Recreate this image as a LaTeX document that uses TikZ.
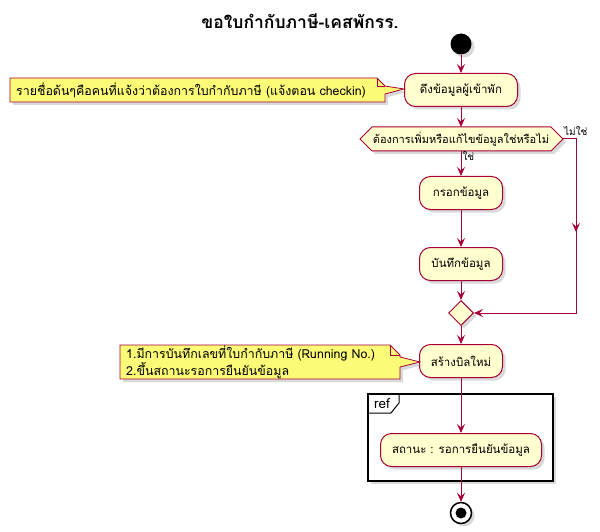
\documentclass[tikz,border=0pt]{standalone}
\usepackage{fontspec}
\newfontfamily\thaifont[Script=Thai]{Loma}
\usetikzlibrary{arrows.meta,shapes.geometric,shadows}
\definecolor{umlred}{HTML}{A80036}
\definecolor{actfill}{HTML}{FEFECE}
\definecolor{notefill}{HTML}{FBFB77}
\tikzset{
  umlshadow/.style={drop shadow={shadow xshift=3pt,shadow yshift=-3pt,opacity=.3}},
  act/.style={draw=umlred, fill=actfill, rounded corners=11pt, line width=1pt,
    minimum height=33pt, inner xsep=10pt, umlshadow,
    font=\thaifont\fontsize{11.5}{13}\selectfont},
  flow/.style={draw=umlred, line width=1pt, -{Stealth[length=9pt,width=8pt,inset=3.5pt]}},
  wire/.style={draw=umlred, line width=1pt},
  notebox/.style={draw=umlred, fill=notefill, line width=0.8pt, umlshadow},
  notetext/.style={anchor=west, align=left, inner sep=0pt,
    font=\thaifont\fontsize{12.4}{15.5}\selectfont},
  guard/.style={inner sep=1pt, font=\thaifont\fontsize{10}{12}\selectfont},
}
\begin{document}
\begin{tikzpicture}[x=1pt,y=-1pt]
\useasboundingbox (0,0) rectangle (600,532);
\node[font=\thaifont\bfseries\fontsize{17.5}{20}\selectfont] (title) at (300,21) {ขอใบกำกับภาษี-เคสพักรร.};

% start
\node[circle, fill=black, minimum size=21pt, inner sep=0pt, umlshadow] (start) at (461,44) {};

% pull guest data + note
\node[act, minimum width=113pt] (pull) at (461,90) {ดึงข้อมูลผู้เข้าพัก};
\draw[notebox] (10,78) -- (377,78) -- (385,86) -- (404,89) -- (385,94) -- (385,102) -- (10,102) -- cycle;
\draw[umlred, line width=0.8pt] (377,78) -- (377,86) -- (385,86);
\node[notetext] (note1) at (16,90) {รายชื่อด้นๆคือคนที่แจ้งว่าต้องการใบกำกับภาษี (แจ้งตอน checkin)};

% decision
\draw[wire, fill=actfill, umlshadow] (360,139) -- (372,127) -- (551,127) -- (563,139) -- (551,151) -- (372,151) -- cycle;
\node[font=\thaifont\fontsize{11}{13}\selectfont] (ask) at (461,139) {ต้องการเพิ่มหรือแก้ไขข้อมูลใช่หรือไม่};
\coordinate (askN) at (461,127);
\coordinate (askS) at (461,151);
\coordinate (askE) at (563,139);
\node[guard, anchor=west] (nolbl) at (563,131) {ไม่ใช่};

% yes branch
\node[act, minimum width=83pt] (fill) at (461,193) {กรอกข้อมูล};
\node[act, minimum width=83pt] (save) at (461,264) {บันทึกข้อมูล};
\node[diamond, draw=umlred, fill=actfill, line width=1pt, minimum size=25pt, inner sep=0pt, umlshadow] (merge) at (461,313) {};

% new bill + note
\node[act, minimum width=83pt] (bill) at (461,361) {สร้างบิลใหม่};
\draw[notebox] (120,345) -- (390,345) -- (400,355) -- (400,357) -- (420,362) -- (400,367) -- (400,379) -- (120,379) -- cycle;
\draw[umlred, line width=0.8pt] (390,345) -- (390,355) -- (400,355);
\node[notetext] (note2) at (126,362) {1.มีการบันทึกเลขที่ใบกำกับภาษี (Running No.)\\2.ขึ้นสถานะรอการยืนยันข้อมูล};

% ref frame
\draw[black, line width=1.5pt, fill=white, umlshadow] (368,394) rectangle (553,481);
\draw[black, line width=1pt] (368,413) -- (391,413) -- (399,403) -- (399,394);
\node[font=\fontsize{13.5}{15}\selectfont\thaifont, inner sep=0pt] (reflbl) at (382,404) {ref};
\node[act, minimum width=161pt] (status) at (461,450) {สถานะ : รอการยืนยันข้อมูล};

% stop
\node[circle, draw=black, line width=1.5pt, fill=white, minimum size=21pt, inner sep=0pt, umlshadow] (stop) at (461,513) {};
\node[circle, fill=black, minimum size=11pt, inner sep=0pt] (stopdot) at (stop.center) {};

% connectors
\coordinate (noA) at (576,139);
\coordinate (noB) at (576,232);
\coordinate (noC) at (576,313);
\draw[flow] (start) -- (pull);
\draw[flow] (pull) -- (askN);
\draw[flow] (askS) -- node[guard, pos=0.2, anchor=west] (yeslbl) {ใช่} (fill);
\draw[flow] (fill) -- (save);
\draw[flow] (save) -- (merge);
\draw[wire] (askE) -- (noA) -- (noB);
\draw[flow] (noA) -- (noB);
\draw[flow] (noB) -- (noC) -- (merge.east);
\draw[flow] (merge) -- (bill);
\draw[flow] (bill) -- (status);
\draw[flow] (status) -- (stop);
\end{tikzpicture}
\end{document}
